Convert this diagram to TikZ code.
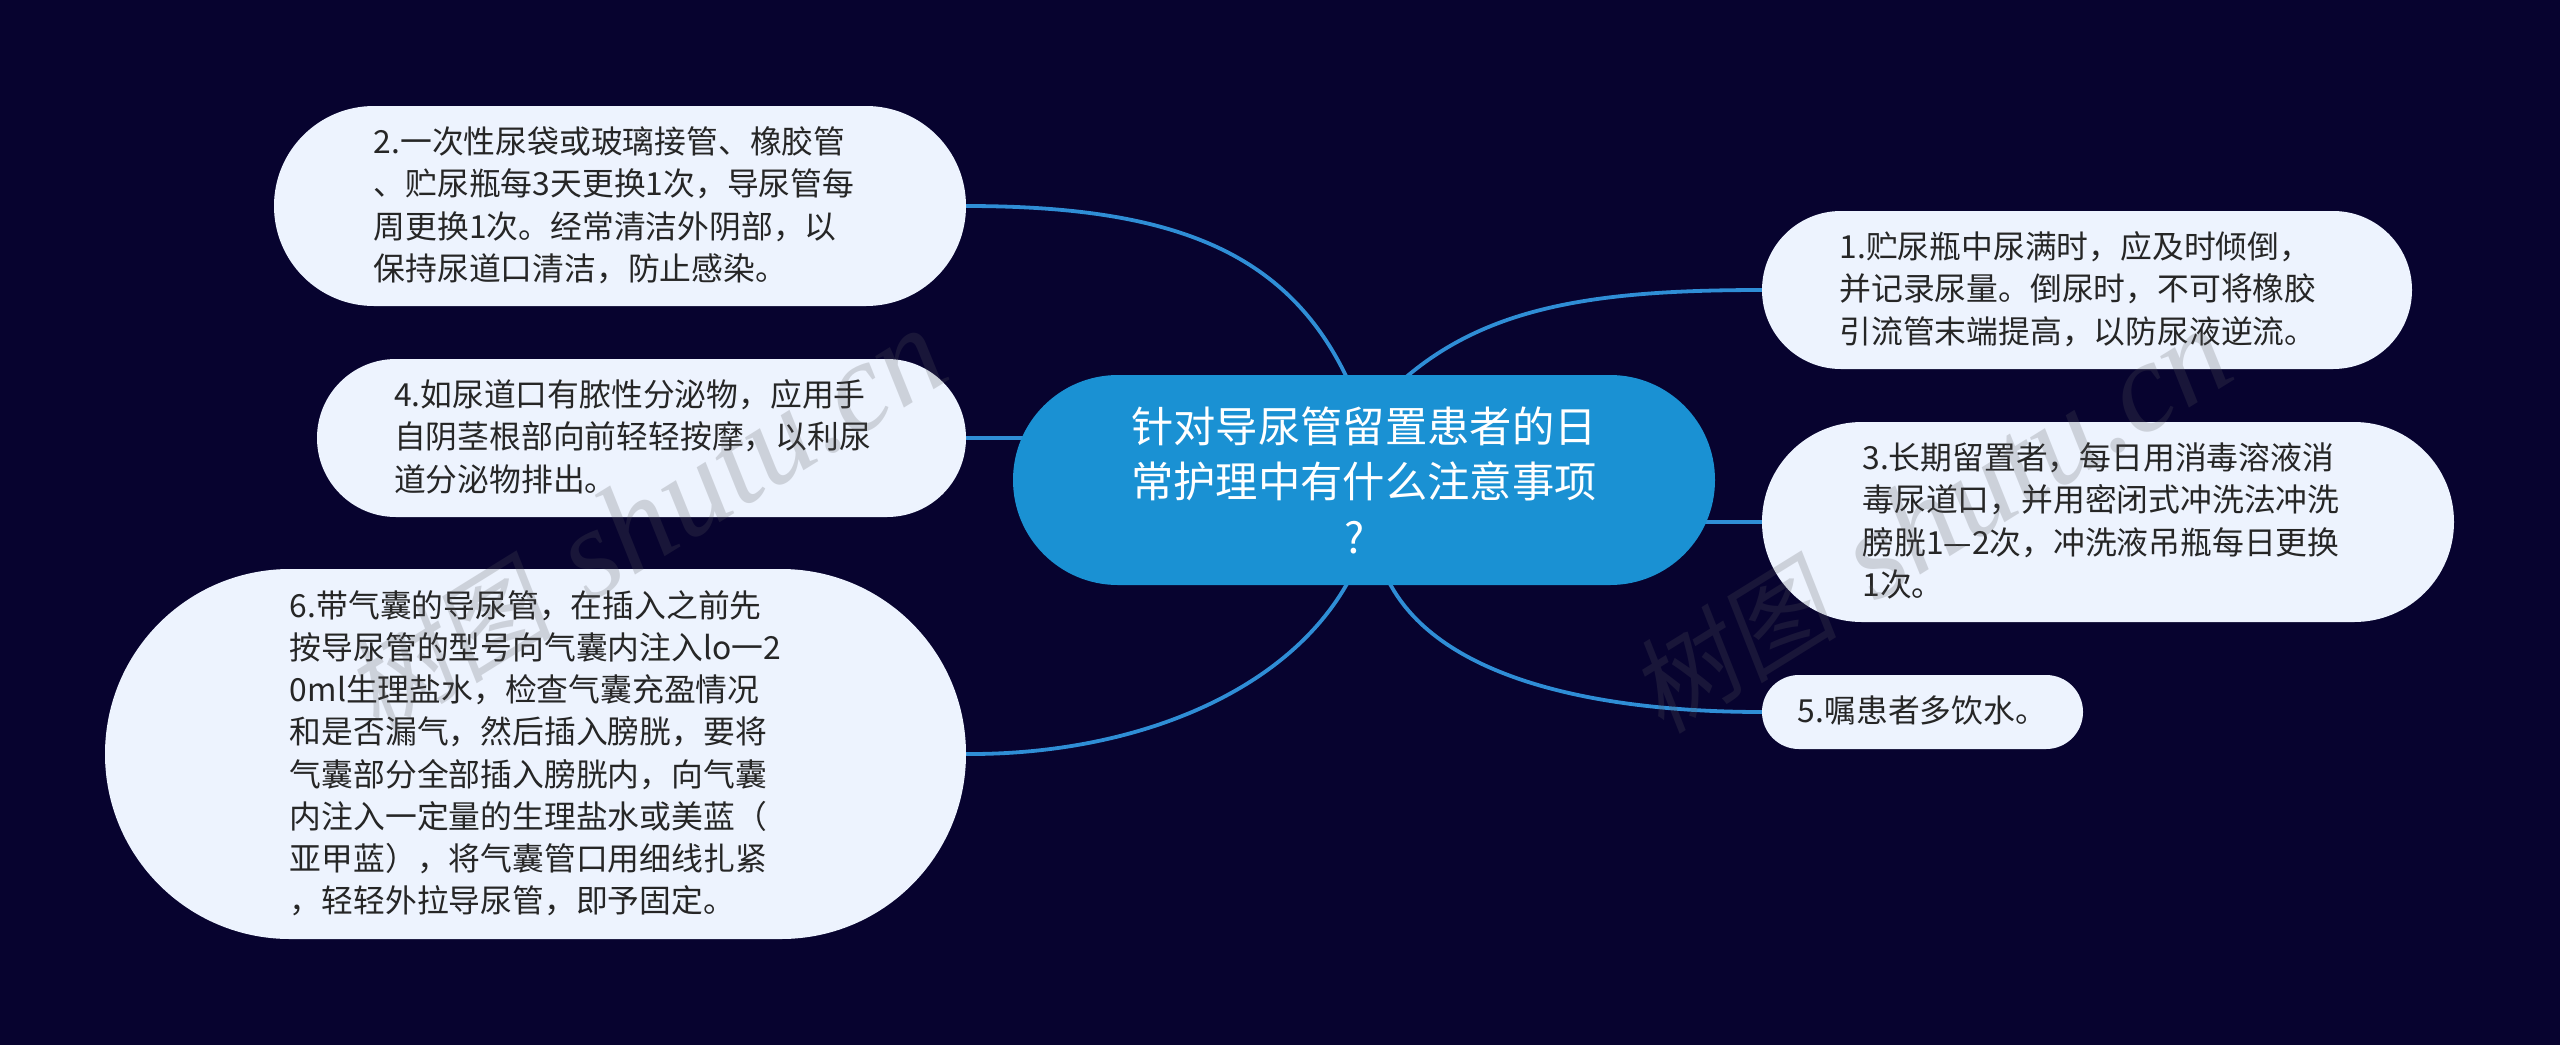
\documentclass[tikz,border=0pt]{standalone}
\usepackage{fontspec}
\setmainfont{Noto Sans CJK SC}
\newfontfamily\wmcjk[FakeSlant=0.18]{Noto Sans CJK SC}
\newfontfamily\wmlat{Liberation Serif}
\usetikzlibrary{backgrounds}
\definecolor{bgnavy}{HTML}{07032F}
\definecolor{leaffill}{HTML}{EDF3FE}
\definecolor{rootfill}{HTML}{1A91D3}
\definecolor{linkblue}{HTML}{2F8ED6}
\definecolor{inkdark}{HTML}{262626}
\definecolor{wmgrey}{HTML}{5A5A5E}
\newcommand\txtlines[2]{\raisebox{-2.5pt}[\height][\depth]{\begin{tabular}{@{}l@{\kern#1pt}}#2\end{tabular}}}
\newcommand\wmtext{{\wmcjk\fontsize{105}{105}\selectfont 树图}\kern40pt{\wmlat\itshape\fontsize{128}{128}\selectfont shutu.cn}}
\tikzset{
  leafbox/.style={shape=rectangle,fill=leaffill,text=inkdark,inner sep=0pt,outer sep=0pt,
    font=\fontsize{31.8}{42.2}\selectfont},
  rootbox/.style={shape=rectangle,fill=rootfill,text=white,inner sep=0pt,outer sep=0pt,align=center,
    font=\fontsize{42.3}{55.5}\selectfont},
  linkline/.style={draw=linkblue,line width=3.8pt},
  wmark/.style={rotate=31.8,text=wmgrey,text opacity=0.22,inner sep=0pt}
}
\begin{document}
\begin{tikzpicture}[x=1pt,y=-1pt]
\useasboundingbox (0,0) rectangle (2560,1045);
\node[rootbox,minimum width=702pt,minimum height=210pt,rounded corners=104.9pt] (root) at (1364,480)
  {针对导尿管留置患者的日\\常护理中有什么注意事项\\?\kern18pt};
\node[leafbox,minimum width=692pt,minimum height=200pt,rounded corners=99.9pt] (b2) at (620,206)
  {\txtlines{12}{2.一次性尿袋或玻璃接管、橡胶管\\、贮尿瓶每3天更换1次，导尿管每\\周更换1次。经常清洁外阴部，以\\保持尿道口清洁，防止感染。}};
\node[leafbox,minimum width=649pt,minimum height=158pt,rounded corners=78.9pt] (b4) at (641.5,438)
  {\txtlines{18}{4.如尿道口有脓性分泌物，应用手\\自阴茎根部向前轻轻按摩，以利尿\\道分泌物排出。}};
\node[leafbox,minimum width=861pt,minimum height=370pt,rounded corners=184.9pt] (b6) at (535.5,754)
  {\txtlines{0}{6.带气囊的导尿管，在插入之前先\\按导尿管的型号向气囊内注入lo一2\\0ml生理盐水，检查气囊充盈情况\\和是否漏气，然后插入膀胱，要将\\气囊部分全部插入膀胱内，向气囊\\内注入一定量的生理盐水或美蓝（\\亚甲蓝），将气囊管口用细线扎紧\\，轻轻外拉导尿管，即予固定。}};
\node[leafbox,minimum width=650pt,minimum height=158pt,rounded corners=78.9pt] (b1) at (2087,290)
  {\txtlines{18}{1.贮尿瓶中尿满时，应及时倾倒，\\并记录尿量。倒尿时，不可将橡胶\\引流管末端提高，以防尿液逆流。}};
\node[leafbox,minimum width=692pt,minimum height=200pt,rounded corners=99.9pt] (b3) at (2108,522)
  {\txtlines{14}{3.长期留置者，每日用消毒溶液消\\毒尿道口，并用密闭式冲洗法冲洗\\膀胱1—2次，冲洗液吊瓶每日更换\\1次。}};
\node[leafbox,minimum width=321pt,minimum height=74pt,rounded corners=36.9pt] (b5) at (1922.5,712)
  {\txtlines{0}{5.嘱患者多饮水。}};
\coordinate (j2) at (1347,378);
\coordinate (j1) at (1405,378);
\coordinate (j6) at (1348,582);
\coordinate (j5) at (1389,582);
\begin{scope}[on background layer]
  \fill[bgnavy] (0,0) rectangle (2560,1045);
  \draw[linkline] (b2.east) .. controls (1170,206) and (1286,250) .. (j2);
  \draw[linkline] (b1.west) .. controls (1600,290) and (1490,305) .. (j1);
  \draw[linkline] (b6.east) .. controls (1130,755) and (1285,695) .. (j6);
  \draw[linkline] (b5.west) .. controls (1600,712) and (1440,680) .. (j5);
  \draw[linkline] (b4.east) -- (b4.east -| root.center);
  \draw[linkline] (b3.west) -- (b3.west -| root.center);
\end{scope}
\node[wmark] (wm1) at (645,522) {\wmtext};
\node[wmark] (wm2) at (1930,522) {\wmtext};
\end{tikzpicture}
\end{document}
